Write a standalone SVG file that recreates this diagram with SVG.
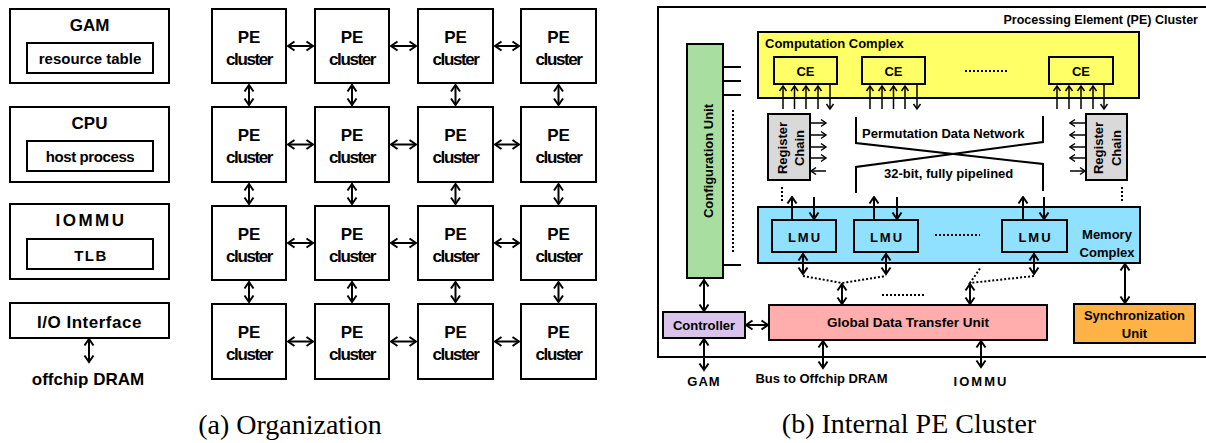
<svg xmlns="http://www.w3.org/2000/svg" width="1206" height="443" viewBox="0 0 1206 443">
<style>
text{font-family:"Liberation Sans",Arial,sans-serif;font-weight:bold;fill:#000}
.b{fill:#fff;stroke:#000;stroke-width:2}
.big{font-size:17px;text-anchor:middle}
.mid{font-size:15px;text-anchor:middle}
.sm{font-size:13px;text-anchor:middle}
.cl{letter-spacing:-1.4px}
.ln{fill:none;stroke:#000;stroke-width:2}
.a2{fill:none;stroke:#000;stroke-width:2;marker-end:url(#ah);marker-start:url(#ah)}
.a1{fill:none;stroke:#000;stroke-width:2;marker-end:url(#ah)}
.s1{fill:none;stroke:#000;stroke-width:1.5;marker-end:url(#as)}
.dot{fill:none;stroke:#000;stroke-width:2;stroke-dasharray:2 2}
.cap{font-family:"Liberation Serif","Times New Roman",serif;font-weight:normal;font-size:28px;text-anchor:middle}
</style>
<defs>
<marker id="ah" viewBox="0 0 12 12" refX="10.5" refY="6" markerWidth="12" markerHeight="12" markerUnits="userSpaceOnUse" orient="auto-start-reverse">
<path d="M4,1.5 L10.5,6 L4,10.5" fill="none" stroke="#000" stroke-width="2"/>
</marker>
<marker id="as" viewBox="0 0 12 12" refX="10.5" refY="6" markerWidth="12" markerHeight="12" markerUnits="userSpaceOnUse" orient="auto-start-reverse">
<path d="M5.5,2.5 L10.5,6 L5.5,9.5" fill="none" stroke="#000" stroke-width="1.5"/>
</marker>
</defs>
<rect width="1206" height="443" fill="#fff"/>

<!-- Left column -->
<g id="gam">
<rect class="b" x="10" y="9" width="159" height="74"/>
<rect class="b" x="27" y="43" width="126" height="30"/>
<text class="big" x="89.5" y="31">GAM</text>
<text class="mid" x="90" y="64">resource table</text>
</g>
<g id="cpu">
<rect class="b" x="10" y="107" width="159" height="75"/>
<rect class="b" x="27" y="141" width="126" height="30"/>
<text class="big" x="89.5" y="129">CPU</text>
<text class="mid" x="90" y="162" style="letter-spacing:-0.4px">host process</text>
</g>
<g id="iommu">
<rect class="b" x="10" y="204" width="159" height="75"/>
<rect class="b" x="27" y="239" width="126" height="30"/>
<text class="big" x="91" y="226" style="letter-spacing:2.5px">IOMMU</text>
<text class="mid" x="91" y="261" style="letter-spacing:1.5px">TLB</text>
</g>
<g id="io">
<rect class="b" x="10" y="303" width="159" height="35"/>
<text class="big" x="89.5" y="328" style="letter-spacing:0.5px">I/O Interface</text>
</g>
<g id="dram">
<text class="big" x="88" y="385">offchip DRAM</text>
</g>

<!-- PE grid -->
<g id="pe-grid">
<g id="pe11"><rect class="b" x="212" y="9" width="74" height="74"/><text class="big" x="249" y="43">PE</text><text class="big cl" x="249" y="65">cluster</text></g>
<g id="pe12"><rect class="b" x="315" y="9" width="74" height="74"/><text class="big" x="352" y="43">PE</text><text class="big cl" x="352" y="65">cluster</text></g>
<g id="pe13"><rect class="b" x="418" y="9" width="75" height="74"/><text class="big" x="455.5" y="43">PE</text><text class="big cl" x="455.5" y="65">cluster</text></g>
<g id="pe14"><rect class="b" x="521" y="9" width="75" height="74"/><text class="big" x="558.5" y="43">PE</text><text class="big cl" x="558.5" y="65">cluster</text></g>
<g id="pe21"><rect class="b" x="212" y="107" width="74" height="75"/><text class="big" x="249" y="141">PE</text><text class="big cl" x="249" y="163">cluster</text></g>
<g id="pe22"><rect class="b" x="315" y="107" width="74" height="75"/><text class="big" x="352" y="141">PE</text><text class="big cl" x="352" y="163">cluster</text></g>
<g id="pe23"><rect class="b" x="418" y="107" width="75" height="75"/><text class="big" x="455.5" y="141">PE</text><text class="big cl" x="455.5" y="163">cluster</text></g>
<g id="pe24"><rect class="b" x="521" y="107" width="75" height="75"/><text class="big" x="558.5" y="141">PE</text><text class="big cl" x="558.5" y="163">cluster</text></g>
<g id="pe31"><rect class="b" x="212" y="206" width="74" height="74"/><text class="big" x="249" y="240">PE</text><text class="big cl" x="249" y="262">cluster</text></g>
<g id="pe32"><rect class="b" x="315" y="206" width="74" height="74"/><text class="big" x="352" y="240">PE</text><text class="big cl" x="352" y="262">cluster</text></g>
<g id="pe33"><rect class="b" x="418" y="206" width="75" height="74"/><text class="big" x="455.5" y="240">PE</text><text class="big cl" x="455.5" y="262">cluster</text></g>
<g id="pe34"><rect class="b" x="521" y="206" width="75" height="74"/><text class="big" x="558.5" y="240">PE</text><text class="big cl" x="558.5" y="262">cluster</text></g>
<g id="pe41"><rect class="b" x="212" y="304" width="74" height="75"/><text class="big" x="249" y="338">PE</text><text class="big cl" x="249" y="360">cluster</text></g>
<g id="pe42"><rect class="b" x="315" y="304" width="74" height="75"/><text class="big" x="352" y="338">PE</text><text class="big cl" x="352" y="360">cluster</text></g>
<g id="pe43"><rect class="b" x="418" y="304" width="75" height="75"/><text class="big" x="455.5" y="338">PE</text><text class="big cl" x="455.5" y="360">cluster</text></g>
<g id="pe44"><rect class="b" x="521" y="304" width="75" height="75"/><text class="big" x="558.5" y="338">PE</text><text class="big cl" x="558.5" y="360">cluster</text></g>
</g>

<!-- Right: PE cluster internals -->
<g id="pe-cluster-frame">
<rect x="658" y="7" width="600" height="350" fill="none" stroke="#000" stroke-width="2"/>
<text x="1198" y="24" style="font-size:12.5px;text-anchor:end">Processing Element (PE) Cluster</text>
</g>
<g id="computation-complex">
<rect x="758" y="32" width="381" height="66" fill="#FFFF66" stroke="#000" stroke-width="2"/>
<text x="765" y="48" style="font-size:13px">Computation Complex</text>
<line class="dot" x1="965" y1="71" x2="1008" y2="71"/>
</g>
<g id="ce1"><rect x="774" y="57" width="63" height="27" fill="#FFFF66" stroke="#000" stroke-width="2"/><text class="sm" x="805.5" y="76">CE</text></g>
<g id="ce2"><rect x="862" y="57" width="63" height="27" fill="#FFFF66" stroke="#000" stroke-width="2"/><text class="sm" x="893.5" y="76">CE</text></g>
<g id="ce3"><rect x="1049" y="57" width="64" height="27" fill="#FFFF66" stroke="#000" stroke-width="2"/><text class="sm" x="1081" y="76">CE</text></g>
<g id="config-unit">
<rect x="687" y="44" width="36" height="234" fill="#A8DFA0" stroke="#000" stroke-width="2"/>
<text class="sm" transform="translate(713,161) rotate(-90)">Configuration Unit</text>
</g>
<g id="reg-chain-left">
<rect x="768" y="114" width="42" height="66" fill="#D9D9D9" stroke="#000" stroke-width="2"/>
<text class="sm" transform="translate(787,148) rotate(-90)">Register</text>
<text class="sm" transform="translate(804,148) rotate(-90)">Chain</text>
</g>
<g id="reg-chain-right">
<rect x="1086" y="114" width="41" height="66" fill="#D9D9D9" stroke="#000" stroke-width="2"/>
<text class="sm" transform="translate(1103,148) rotate(-90)">Register</text>
<text class="sm" transform="translate(1121,148) rotate(-90)">Chain</text>
</g>
<g id="permutation-network">
<path class="ln" d="M856,117 V143 L1043,164 V191"/>
<path class="ln" d="M856,193 V167 L1043,142 V116"/>
<text x="862" y="138" style="font-size:13px">Permutation Data Network</text>
<text x="884" y="178" style="font-size:13px">32-bit, fully pipelined</text>
</g>
<g id="memory-complex">
<rect x="758" y="207" width="382" height="56" fill="#8FE1FF" stroke="#000" stroke-width="2"/>
<text class="sm" x="1107" y="239">Memory</text>
<text class="sm" x="1107" y="257">Complex</text>
<line class="dot" x1="935" y1="235" x2="980" y2="235"/>
</g>
<g id="lmu1"><rect x="772" y="220" width="64" height="32" fill="#8FE1FF" stroke="#000" stroke-width="2"/><text class="sm" x="805" y="242" style="letter-spacing:2px">LMU</text></g>
<g id="lmu2"><rect x="854" y="220" width="64" height="32" fill="#8FE1FF" stroke="#000" stroke-width="2"/><text class="sm" x="887" y="242" style="letter-spacing:2px">LMU</text></g>
<g id="lmu3"><rect x="1002" y="220" width="65" height="32" fill="#8FE1FF" stroke="#000" stroke-width="2"/><text class="sm" x="1035.5" y="242" style="letter-spacing:2px">LMU</text></g>
<g id="gdtu">
<rect x="769" y="305" width="278" height="35" fill="#FFADAD" stroke="#000" stroke-width="2"/>
<text x="908" y="327" style="font-size:13.5px;text-anchor:middle">Global Data Transfer Unit</text>
</g>
<g id="controller">
<rect x="663" y="312" width="82" height="26" fill="#D9C3EA" stroke="#000" stroke-width="2"/>
<text class="sm" x="704" y="330">Controller</text>
</g>
<g id="sync-unit">
<rect x="1074" y="304" width="121" height="39" fill="#FFB347" stroke="#000" stroke-width="2"/>
<text class="sm" x="1134.5" y="320">Synchronization</text>
<text class="sm" x="1134.5" y="338">Unit</text>
</g>
<g id="ext-labels">
<text class="sm" x="704" y="386" style="letter-spacing:1px">GAM</text>
<text class="sm" x="821.5" y="383">Bus to Offchip DRAM</text>
<text class="sm" x="981" y="386" style="letter-spacing:2px">IOMMU</text>
</g>

<g id="connectors">
<!-- left column -->
<line class="a2" x1="89" y1="339" x2="89" y2="362"/>
<!-- PE grid horizontal -->
<line class="a2" x1="288" y1="46" x2="313" y2="46"/><line class="a2" x1="391" y1="46" x2="416" y2="46"/><line class="a2" x1="495" y1="46" x2="519" y2="46"/>
<line class="a2" x1="288" y1="144.5" x2="313" y2="144.5"/><line class="a2" x1="391" y1="144.5" x2="416" y2="144.5"/><line class="a2" x1="495" y1="144.5" x2="519" y2="144.5"/>
<line class="a2" x1="288" y1="243" x2="313" y2="243"/><line class="a2" x1="391" y1="243" x2="416" y2="243"/><line class="a2" x1="495" y1="243" x2="519" y2="243"/>
<line class="a2" x1="288" y1="341.5" x2="313" y2="341.5"/><line class="a2" x1="391" y1="341.5" x2="416" y2="341.5"/><line class="a2" x1="495" y1="341.5" x2="519" y2="341.5"/>
<!-- PE grid vertical -->
<line class="a2" x1="249" y1="85" x2="249" y2="105"/><line class="a2" x1="352" y1="85" x2="352" y2="105"/><line class="a2" x1="455.5" y1="85" x2="455.5" y2="105"/><line class="a2" x1="558.5" y1="85" x2="558.5" y2="105"/>
<line class="a2" x1="249" y1="184" x2="249" y2="204"/><line class="a2" x1="352" y1="184" x2="352" y2="204"/><line class="a2" x1="455.5" y1="184" x2="455.5" y2="204"/><line class="a2" x1="558.5" y1="184" x2="558.5" y2="204"/>
<line class="a2" x1="249" y1="282" x2="249" y2="302"/><line class="a2" x1="352" y1="282" x2="352" y2="302"/><line class="a2" x1="455.5" y1="282" x2="455.5" y2="302"/><line class="a2" x1="558.5" y1="282" x2="558.5" y2="302"/>

<!-- config unit ticks and dotted -->
<path class="ln" d="M723,67 H741 M723,81 H741 M723,95 H741 M723,265 H741"/>
<line class="dot" x1="733" y1="110" x2="733" y2="252"/>
<line class="dot" x1="782" y1="187" x2="782" y2="201"/>
<line class="dot" x1="1122" y1="187" x2="1122" y2="201"/>

<!-- CE arrows -->
<line class="s1" x1="783" y1="109" x2="783" y2="86"/><line class="s1" x1="794.5" y1="109" x2="794.5" y2="86"/><line class="s1" x1="806" y1="109" x2="806" y2="86"/><line class="s1" x1="818" y1="109" x2="818" y2="86"/><line class="s1" x1="830" y1="85" x2="830" y2="109"/>
<line class="s1" x1="870" y1="109" x2="870" y2="86"/><line class="s1" x1="882" y1="109" x2="882" y2="86"/><line class="s1" x1="893.5" y1="109" x2="893.5" y2="86"/><line class="s1" x1="905" y1="109" x2="905" y2="86"/><line class="s1" x1="917" y1="85" x2="917" y2="109"/>
<line class="s1" x1="1057" y1="109" x2="1057" y2="86"/><line class="s1" x1="1069" y1="109" x2="1069" y2="86"/><line class="s1" x1="1081" y1="109" x2="1081" y2="86"/><line class="s1" x1="1093" y1="109" x2="1093" y2="86"/><line class="s1" x1="1104" y1="85" x2="1104" y2="109"/>

<!-- register chain arrows -->
<line class="s1" x1="811" y1="123" x2="826" y2="123"/><line class="s1" x1="811" y1="135" x2="826" y2="135"/><line class="s1" x1="811" y1="147" x2="826" y2="147"/><line class="s1" x1="811" y1="158" x2="826" y2="158"/><line class="s1" x1="826" y1="171" x2="811" y2="171"/>
<line class="s1" x1="1085" y1="123" x2="1070" y2="123"/><line class="s1" x1="1085" y1="135" x2="1070" y2="135"/><line class="s1" x1="1085" y1="147" x2="1070" y2="147"/><line class="s1" x1="1085" y1="158" x2="1070" y2="158"/><line class="s1" x1="1070" y1="171" x2="1085" y2="171"/>

<!-- LMU top arrows -->
<line class="a1" x1="792" y1="220" x2="792" y2="197"/><line class="a1" x1="814" y1="197" x2="814" y2="219"/>
<line class="a1" x1="874" y1="220" x2="874" y2="197"/><line class="a1" x1="897" y1="197" x2="897" y2="219"/>
<line class="a1" x1="1023" y1="220" x2="1023" y2="197"/><line class="a1" x1="1044" y1="197" x2="1044" y2="219"/>

<!-- LMU bottom -->
<line class="a2" x1="803" y1="254" x2="803" y2="274"/><line class="a2" x1="886" y1="254" x2="886" y2="274"/><line class="a2" x1="1034" y1="254" x2="1034" y2="274"/>
<path class="dot" d="M803,276 L842,283 L886,276"/>
<path class="dot" d="M1034,276 L970,283 L981,267"/>
<line class="dot" x1="882" y1="295" x2="926" y2="295"/>
<line class="a2" x1="842" y1="284" x2="842" y2="304"/>
<line class="a2" x1="970" y1="284" x2="970" y2="304"/>

<!-- controller etc -->
<line class="a2" x1="704" y1="280" x2="704" y2="311"/>
<line class="a2" x1="746" y1="325" x2="768" y2="325"/>
<line class="a2" x1="704" y1="339" x2="704" y2="370"/>
<line class="a2" x1="823" y1="341" x2="823" y2="368"/>
<line class="a2" x1="981" y1="341" x2="981" y2="367"/>
<line class="a2" x1="1125" y1="264" x2="1125" y2="303"/>
</g>

<g id="captions">
<text class="cap" x="290" y="434">(a)  Organization</text>
<text class="cap" x="909" y="433">(b) Internal PE Cluster</text>
</g>
</svg>
